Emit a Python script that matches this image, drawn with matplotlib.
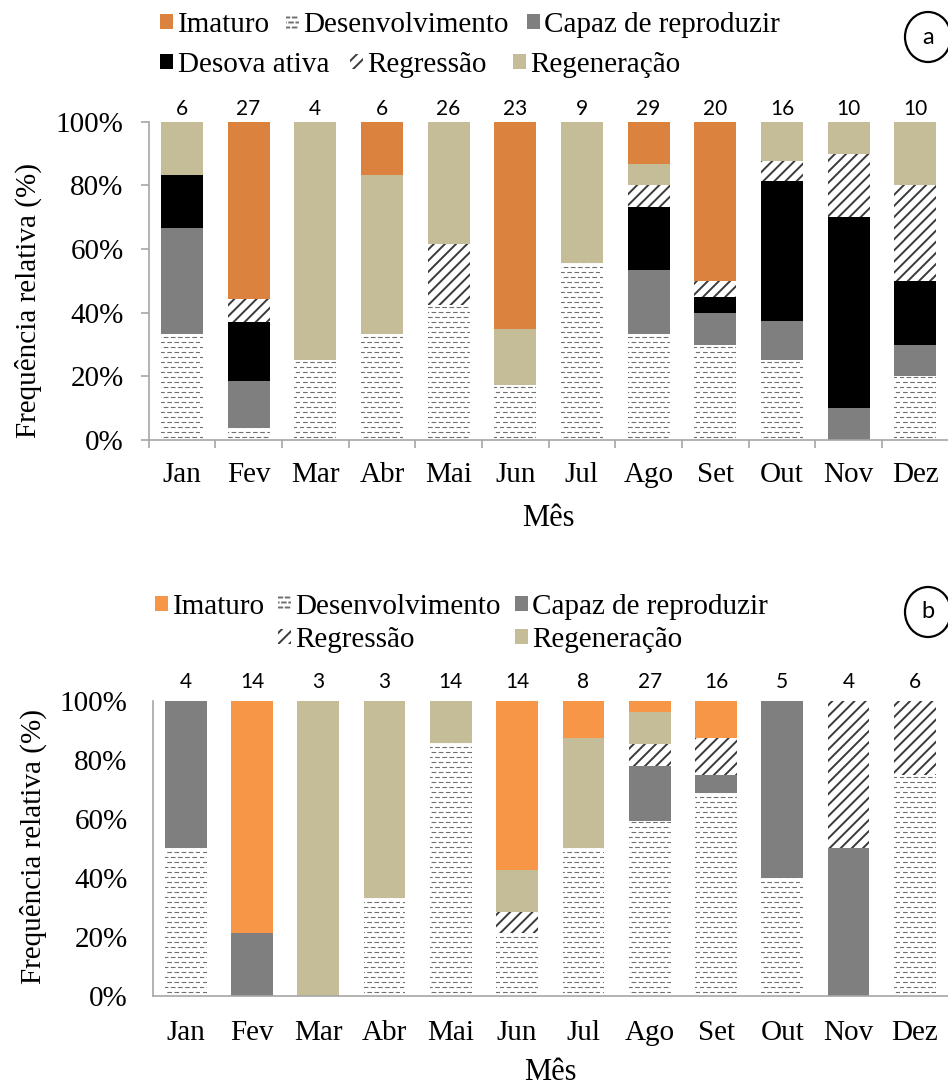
import numpy as np
import matplotlib
matplotlib.use("Agg")
import matplotlib.pyplot as plt
import matplotlib.hatch as mhatch
from matplotlib.path import Path
from matplotlib.patches import Patch, Ellipse

## dados (% por mes)
meses = ['Jan', 'Fev', 'Mar', 'Abr', 'Mai', 'Jun', 'Jul', 'Ago', 'Set', 'Out', 'Nov', 'Dez']

n_a = [6, 27, 4, 6, 26, 23, 9, 29, 20, 16, 10, 10]
dev_a = [33.3, 3.7, 25, 33.3, 42.3, 17.4, 55.6, 33.3, 30, 25, 0, 20]
capaz_a = [33.3, 14.8, 0, 0, 0, 0, 0, 20, 10, 12.5, 10, 10]
desova_a = [16.7, 18.5, 0, 0, 0, 0, 0, 20, 5, 43.75, 60, 20]
regress_a = [0, 7.4, 0, 0, 19.2, 0, 0, 6.7, 5, 6.25, 20, 30]
regen_a = [16.7, 0, 75, 50, 38.5, 17.4, 44.4, 6.7, 0, 12.5, 10, 20]
imat_a = [0, 55.6, 0, 16.7, 0, 65.2, 0, 13.3, 50, 0, 0, 0]

n_b = [4, 14, 3, 3, 14, 14, 8, 27, 16, 5, 4, 6]
dev_b = [50, 0, 0, 33.3, 85.7, 21.4, 50, 59.3, 68.75, 40, 0, 75]
capaz_b = [50, 21.4, 0, 0, 0, 0, 0, 18.5, 6.25, 60, 50, 0]
desova_b = [0] * 12
regress_b = [0, 0, 0, 0, 0, 7.1, 0, 7.4, 12.5, 0, 50, 25]
regen_b = [0, 0, 100, 66.7, 14.3, 14.3, 37.5, 11.1, 0, 0, 0, 0]
imat_b = [0, 78.6, 0, 0, 0, 57.2, 12.5, 3.7, 12.5, 0, 0, 0]

COR_IMAT_A = '#DA823E'
COR_IMAT_B = '#F79646'
COR_REGEN = '#C4BD97'
COR_CAPAZ = '#7F7F7F'
COR_DESOVA = '#000000'
COR_EIXO = '#A6A6A6'
COR_TRACO = '#707070'
COR_DIAG = '#3a3a3a'

W, H = 948, 1086


## hatch "-" -> linhas tracejadas (padrao do Excel)
class DashedRows(mhatch.HatchPatternBase):
    def __init__(self, hatch, density):
        self.rows = 20 if '-' in hatch else 0
        self.dashes = 14
        self.num_vertices = self.rows * self.dashes * 2

    def set_vertices_and_codes(self, vertices, codes):
        period = 1.0 / self.dashes
        k = 0
        for i in range(self.rows):
            y = (i + 0.5) / self.rows
            shift = period / 2 if i % 2 else 0.0
            for j in range(self.dashes):
                x0 = j * period + shift
                vertices[k] = (x0, y)
                vertices[k + 1] = (x0 + period / 2, y)
                codes[k] = Path.MOVETO
                codes[k + 1] = Path.LINETO
                k += 2


mhatch._hatch_types[0] = DashedRows

serif = 'Liberation Serif'
sans = 'Lato'
plt.rcParams['font.family'] = serif

fig = plt.figure(figsize=(W / 100, H / 100), dpi=100)


def fx(x):
    return x / W


def fy(y):
    return 1 - y / H


def estilo(nome):
    if nome == 'dev':
        plt.rcParams['hatch.linewidth'] = 0.8
        return dict(facecolor='white', edgecolor=COR_TRACO, hatch='-', linewidth=0)
    if nome == 'regress':
        plt.rcParams['hatch.linewidth'] = 1.4
        return dict(facecolor='white', edgecolor=COR_DIAG, hatch='///', linewidth=0)
    return None


def painel(ax, series, cores, n, ticks, off_num):
    x = np.arange(len(meses))
    base = np.zeros(len(meses))
    for nome, vals in series:
        vals = np.array(vals, dtype=float)
        st = estilo(nome)
        if st is None:
            st = dict(color=cores[nome], linewidth=0)
        ax.bar(x, vals, 0.63, bottom=base, **st)
        base += vals
    for i, v in enumerate(n):
        ax.annotate(str(v), (i, 100), xytext=(0, off_num), textcoords='offset points',
                    ha='center', va='baseline', fontsize=15, family=sans)
    ax.set_xlim(-0.5, 11.5)
    ax.set_ylim(0, 100)
    ax.set_xticks(x)
    ax.set_xticklabels(meses, fontsize=21)
    ax.set_yticks(range(0, 101, 20))
    ax.set_yticklabels(['%d%%' % v for v in range(0, 101, 20)], fontsize=21)
    for s in ['top', 'right']:
        ax.spines[s].set_visible(False)
    for s in ['left', 'bottom']:
        ax.spines[s].set_color(COR_EIXO)
        ax.spines[s].set_linewidth(1.2)
    if ticks:
        ax.tick_params(axis='x', which='major', length=0, pad=16)
        ax.set_xticks(np.arange(-0.5, 12, 1), minor=True)
        ax.tick_params(axis='x', which='minor', length=6, color=COR_EIXO, width=1.2)
        ax.tick_params(axis='y', length=6, color=COR_EIXO, width=1.2, pad=12)
    else:
        ax.tick_params(axis='x', length=0, pad=17)
        ax.tick_params(axis='y', length=0, pad=18)


def chave(handle, label, x, y):
    fig.legend([handle], [label], loc='center left', bbox_to_anchor=(fx(x), fy(y)),
               frameon=False, borderpad=0, borderaxespad=0, handlelength=0.45,
               handleheight=0.45, handletextpad=0.15, fontsize=21)


def circulo(letra, x, y):
    fig.add_artist(Ellipse((fx(x), fy(y)), 46 / W, 50 / H, transform=fig.transFigure,
                           fill=False, linewidth=1.6, edgecolor='black'))
    fig.text(fx(x), fy(y), letra, ha='center', va='center', fontsize=17, family=sans)


## painel a
ax1 = fig.add_axes([fx(148.6), fy(440), 800 / W, (440 - 121.7) / H])
cores_a = {'capaz': COR_CAPAZ, 'desova': COR_DESOVA, 'regen': COR_REGEN, 'imat': COR_IMAT_A}
painel(ax1, [('dev', dev_a), ('capaz', capaz_a), ('desova', desova_a),
             ('regress', regress_a), ('regen', regen_a), ('imat', imat_a)],
       cores_a, n_a, True, 5)

## painel b
ax2 = fig.add_axes([fx(152.6), fy(996), (948 - 152.6) / W, (996 - 700.7) / H])
cores_b = {'capaz': COR_CAPAZ, 'desova': COR_DESOVA, 'regen': COR_REGEN, 'imat': COR_IMAT_B}
painel(ax2, [('dev', dev_b), ('capaz', capaz_b), ('desova', desova_b),
             ('regress', regress_b), ('regen', regen_b), ('imat', imat_b)],
       cores_b, n_b, False, 9)

fig.text(fx(28), fy(300), 'Frequência relativa (%)', rotation=90, ha='center', va='center', fontsize=21)
fig.text(fx(548), fy(518), 'Mês', ha='center', va='center', fontsize=22)
fig.text(fx(33), fy(846), 'Frequência relativa (%)', rotation=90, ha='center', va='center', fontsize=21)
fig.text(fx(550), fy(1072), 'Mês', ha='center', va='center', fontsize=22)

## legendas
plt.rcParams['hatch.linewidth'] = 0.8
h_dev = Patch(facecolor='white', edgecolor=COR_TRACO, hatch='-', linewidth=0)
plt.rcParams['hatch.linewidth'] = 1.4
h_reg = Patch(facecolor='white', edgecolor=COR_DIAG, hatch='///', linewidth=0)

chave(Patch(color=COR_IMAT_A, linewidth=0), 'Imaturo', 160, 25)
chave(h_dev, 'Desenvolvimento', 286, 25)
chave(Patch(color=COR_CAPAZ, linewidth=0), 'Capaz de reproduzir', 527, 25)
chave(Patch(color=COR_DESOVA, linewidth=0), 'Desova ativa', 160, 65)
chave(h_reg, 'Regressão', 350, 65)
chave(Patch(color=COR_REGEN, linewidth=0), 'Regeneração', 513, 65)

chave(Patch(color=COR_IMAT_B, linewidth=0), 'Imaturo', 155, 607)
chave(h_dev, 'Desenvolvimento', 278, 607)
chave(Patch(color=COR_CAPAZ, linewidth=0), 'Capaz de reproduzir', 515, 607)
chave(h_reg, 'Regressão', 278, 640)
chave(Patch(color=COR_REGEN, linewidth=0), 'Regeneração', 515, 640)

circulo('a', 928, 37)
circulo('b', 928, 612)

fig.savefig('out.png', dpi=100)
